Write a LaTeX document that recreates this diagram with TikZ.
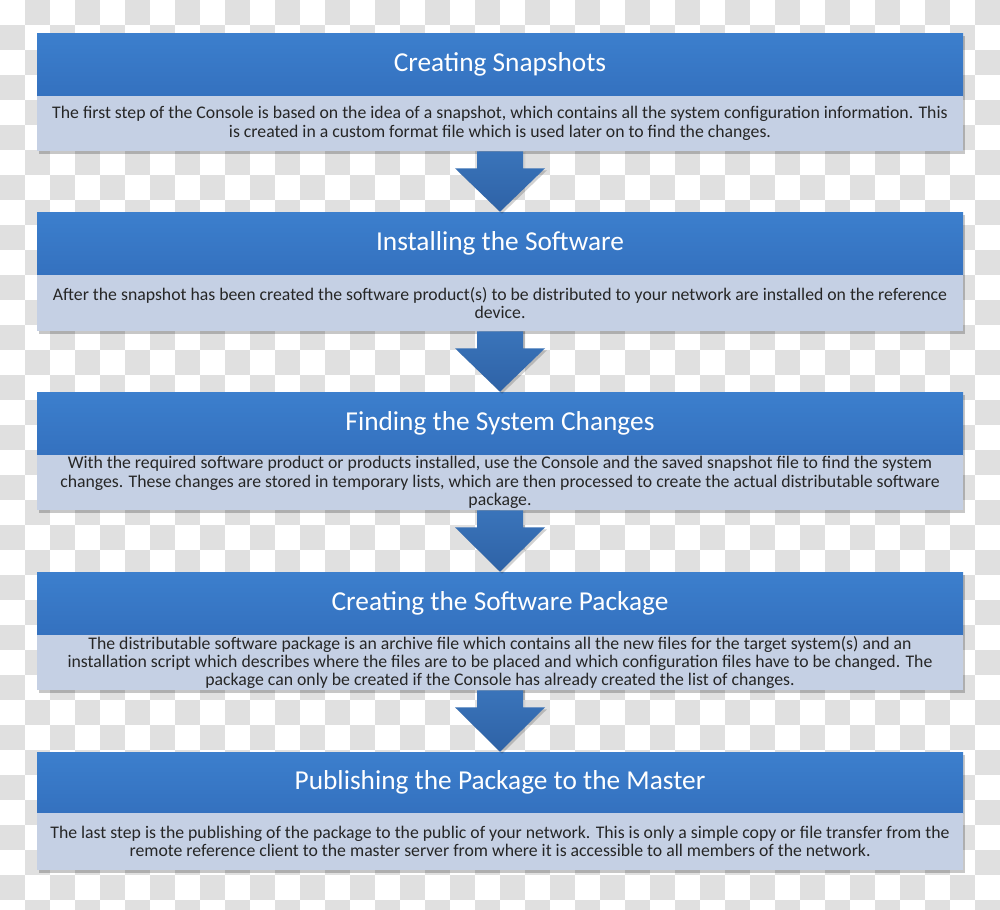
\documentclass[tikz,border=0pt]{standalone}
\usepackage{fontspec}
\setmainfont{Carlito}
\usetikzlibrary{calc}
\definecolor{hdrtop}{HTML}{3C7FCD}
\definecolor{hdrbot}{HTML}{3471BF}
\definecolor{bodyc}{HTML}{C5D0E4}
\definecolor{arrtop}{HTML}{3A74BA}
\definecolor{arrbot}{HTML}{2E62A6}
\definecolor{chk}{HTML}{E0E0E0}
\definecolor{txt}{HTML}{262626}
\begin{document}
\begin{tikzpicture}[x=0.75pt,y=-0.75pt,
  hdr/.style={rectangle, inner sep=0pt, minimum width={926*0.75pt}, minimum height={63*0.75pt},
    top color=hdrtop, bottom color=hdrbot, text=white, font=\fontsize{20.5}{24}\selectfont},
  bodybox/.style={rectangle, inner sep=0pt, minimum width={926*0.75pt}, minimum height={55*0.75pt},
    fill=bodyc, text=txt, align=center, font=\fontsize{13.3}{13.8}\selectfont},
  shadowc/.style={fill=black, opacity=0.22},
  arr/.style={top color=arrtop, bottom color=arrbot}]
\useasboundingbox (0,0) rectangle (1000,910);
% checkerboard background
\fill[white] (0,0) rectangle (1000,910);
\begin{scope}
\clip (0,0) rectangle (1000,910);
\foreach \i in {0,2,...,38}{\foreach \j in {1,3,...,35}{\fill[chk] (\i*25,\j*25) rectangle ++(25,25);}}
\foreach \i in {1,3,...,39}{\foreach \j in {0,2,...,36}{\fill[chk] (\i*25,\j*25) rectangle ++(25,25);}}
\end{scope}
% shadows
\foreach \t/\b in {33/151,212/331,392/510,572/690,752/870}{
  \fill[shadowc] (37+2,\t+3) rectangle (963+2,\b+3);
}
% boxes
\node[hdr] (h1) at (500,64.5) {Creating Snapshots};
\node[bodybox] (b1) at (500,123.5) {The first step of the Console is based on the idea of a snapshot, which contains all the system configuration information. This\\is created in a custom format file which is used later on to find the changes.};
\node[hdr] (h2) at (500,243.5) {Installing the Software};
\node[bodybox,minimum height={56*0.75pt}] (b2) at (500,303) {After the snapshot has been created the software product(s) to be distributed to your network are installed on the reference\\device.};
\node[hdr] (h3) at (500,423.5) {Finding the System Changes};
\node[bodybox] (b3) at (500,482.5) {With the required software product or products installed, use the Console and the saved snapshot file to find the system\\changes. These changes are stored in temporary lists, which are then processed to create the actual distributable software\\package.};
\node[hdr] (h4) at (500,603.5) {Creating the Software Package};
\node[bodybox] (b4) at (500,662.5) {The distributable software package is an archive file which contains all the new files for the target system(s) and an\\installation script which describes where the files are to be placed and which configuration files have to be changed. The\\package can only be created if the Console has already created the list of changes.};
\node[hdr,minimum height={61*0.75pt}] (h5) at (500,782.5) {Publishing the Package to the Master};
\node[bodybox,minimum height={57*0.75pt}] (b5) at (500,841.5) {The last step is the publishing of the package to the public of your network. This is only a simple copy or file transfer from the\\remote reference client to the master server from where it is accessible to all members of the network.};
% block arrows
\foreach \a/\b in {b1/h2,b2/h3,b3/h4,b4/h5}{
  \fill[black,opacity=0.18] ($(\a.south)+(-21,0)$) -- ($(\a.south)+(-21,19)$) -- ($(\a.south)+(-43,19)$) -- ($(\b.north)+(2,2)$) -- ($(\a.south)+(47,19)$) -- ($(\a.south)+(25,19)$) -- ($(\a.south)+(25,0)$) -- cycle;
  \path[arr] ($(\a.south)+(-23,0)$) -- ($(\a.south)+(-23,17)$) -- ($(\a.south)+(-45,17)$) -- (\b.north) -- ($(\a.south)+(45,17)$) -- ($(\a.south)+(23,17)$) -- ($(\a.south)+(23,0)$) -- cycle;
}
\end{tikzpicture}
\end{document}
